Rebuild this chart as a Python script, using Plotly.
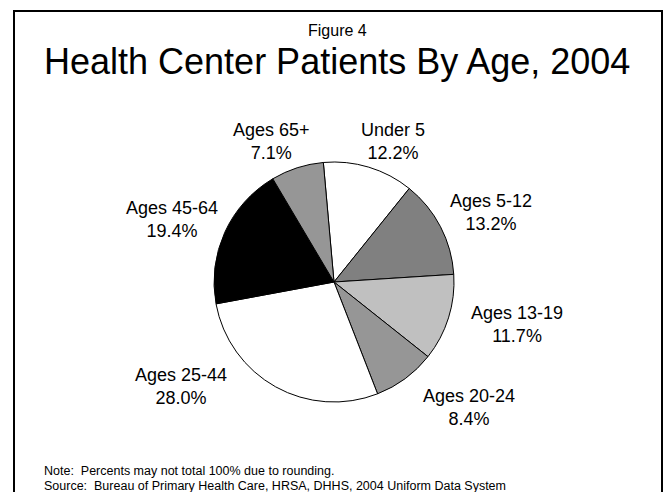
import plotly.graph_objects as go

# ---- data ----
categories = ["Under 5", "Ages 5-12", "Ages 13-19", "Ages 20-24",
              "Ages 25-44", "Ages 45-64", "Ages 65+"]
percents = [12.2, 13.2, 11.7, 8.4, 28.0, 19.4, 7.1]

# ---- styles / layout ----
W, H = 670, 492
slice_colors = ["#ffffff", "#808080", "#c0c0c0", "#969696",
                "#ffffff", "#000000", "#969696"]
FONT = "Liberation Sans, Arial, Helvetica, sans-serif"

# pie geometry in pixels (centre & radius)
CX, CY, R = 334, 282, 120
# label anchor centres in pixels (text placement, like the original's leader-less labels)
label_pos = [(392.5, 141), (490.5, 213), (516.5, 324.5), (468.5, 407.5),
             (181, 386.5), (172, 219.7), (271.5, 141)]


def px(x):
    return x / W


def py(y):
    return 1 - y / H


fig = go.Figure()
fig.add_trace(go.Pie(
    labels=categories,
    values=percents,
    sort=False,
    direction="clockwise",
    rotation=-5.1,
    marker=dict(colors=slice_colors, line=dict(color="#000000", width=1)),
    textinfo="none",
    hoverinfo="label+percent",
    showlegend=False,
    domain=dict(x=[px(CX - R), px(CX + R)], y=[py(CY + R), py(CY - R)]),
))

annotations = []
for cat, val, (lx, ly) in zip(categories, percents, label_pos):
    annotations.append(dict(
        text=f"{cat}<br>{val:.1f}%", x=px(lx), y=py(ly), xref="paper", yref="paper",
        xanchor="center", yanchor="middle", showarrow=False, align="center",
        font=dict(family=FONT, size=18, color="#000000")))

annotations += [
    dict(text="Figure 4", x=px(337.5), y=py(31), xref="paper", yref="paper",
         xanchor="center", yanchor="middle", showarrow=False,
         font=dict(family=FONT, size=16, color="#000000")),
    dict(text="Health Center Patients By Age, 2004", x=px(336.5), y=py(61.5),
         xref="paper", yref="paper", xanchor="center", yanchor="middle",
         showarrow=False, font=dict(family=FONT, size=36, color="#000000")),
    dict(text="Note:  Percents may not total 100% due to rounding.", x=px(41.5), y=py(470.7),
         xref="paper", yref="paper", xanchor="left", yanchor="middle",
         showarrow=False, font=dict(family=FONT, size=12.5, color="#000000")),
    dict(text="Source:  Bureau of Primary Health Care, HRSA, DHHS, 2004 Uniform Data System",
         x=px(41.5), y=py(485.7), xref="paper", yref="paper", xanchor="left",
         yanchor="middle", showarrow=False,
         font=dict(family=FONT, size=12.5, color="#000000")),
]

fig.update_layout(
    width=W, height=H,
    margin=dict(l=0, r=0, t=0, b=0),
    paper_bgcolor="#ffffff", plot_bgcolor="#ffffff",
    annotations=annotations,
    shapes=[dict(type="rect", xref="paper", yref="paper",
                 x0=px(14), x1=px(662), y0=py(11), y1=py(520),
                 line=dict(color="#000000", width=2), fillcolor="rgba(0,0,0,0)")],
)

fig.write_html("out.html")
